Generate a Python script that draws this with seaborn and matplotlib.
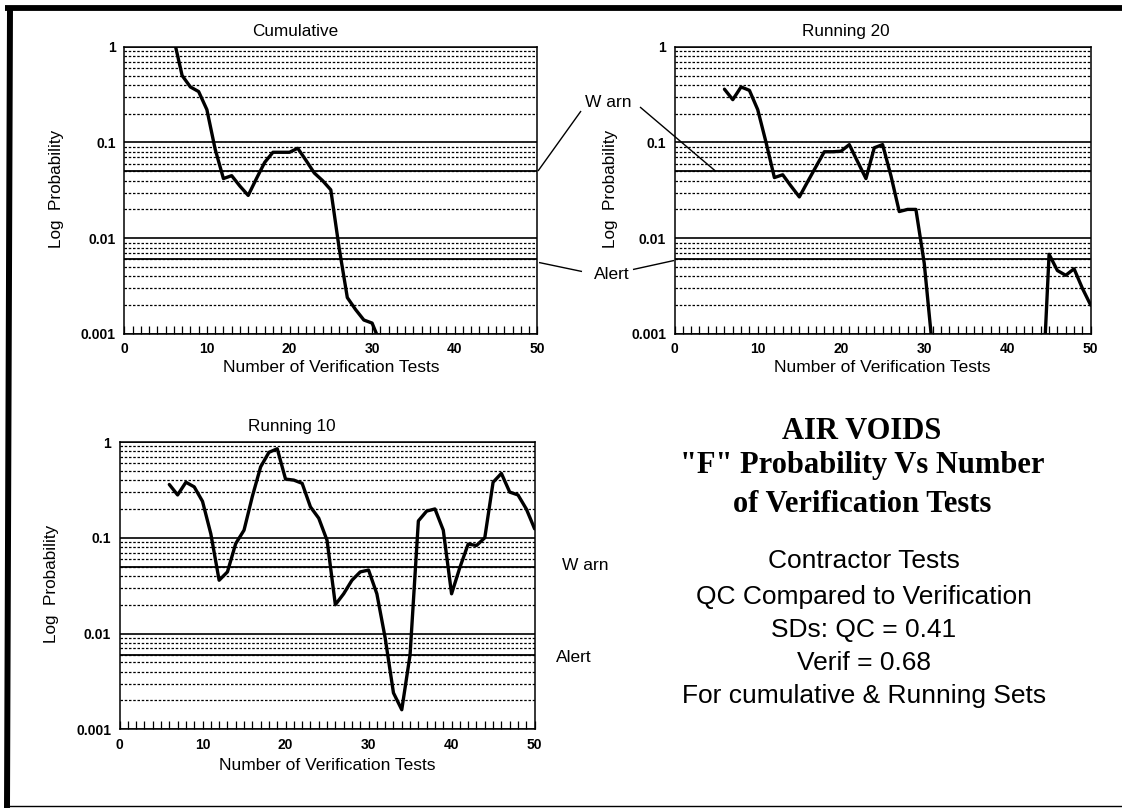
import numpy as np
import pandas as pd
import matplotlib
matplotlib.use("Agg")
import matplotlib.pyplot as plt
from matplotlib.lines import Line2D
from matplotlib.ticker import FixedLocator, MultipleLocator, NullFormatter, LogLocator
import seaborn as sns

# ---------------------------------------------------------------- data
cum_tests = list(range(6, 32))
cum_prob = [1.2, 0.50, 0.38, 0.34, 0.22, 0.085, 0.042, 0.045, 0.035, 0.028,
            0.042, 0.062, 0.079, 0.079, 0.079, 0.087, 0.065, 0.048, 0.040, 0.032,
            0.008, 0.0024, 0.0018, 0.0014, 0.0013, 0.0008]

r20_tests = list(range(6, 32)) + list(range(44, 51))
r20_prob = [0.36, 0.28, 0.38, 0.35, 0.22, 0.10, 0.043, 0.046, 0.035, 0.027,
            0.039, 0.056, 0.080, 0.080, 0.081, 0.095, 0.063, 0.042, 0.088, 0.095,
            0.045, 0.019, 0.020, 0.020, 0.0055, 0.0007,
            0.0001, 0.0068, 0.0046, 0.0041, 0.0048, 0.0030, 0.0020]
r20_segment = [1] * 26 + [2] * 7

r10_tests = list(range(6, 51))
r10_prob = [0.36, 0.28, 0.38, 0.34, 0.24, 0.11, 0.036, 0.044, 0.087, 0.12,
            0.27, 0.55, 0.78, 0.85, 0.41, 0.40, 0.37, 0.21, 0.16, 0.094,
            0.020, 0.026, 0.036, 0.044, 0.046, 0.026, 0.009, 0.0024, 0.0016, 0.006,
            0.15, 0.19, 0.20, 0.12, 0.026, 0.049, 0.086, 0.083, 0.10, 0.38,
            0.47, 0.30, 0.28, 0.20, 0.124]

warn_level = 0.05
alert_level = 0.006

y_ticks = [0.001, 0.01, 0.1, 1]
y_tick_labels = ["0.001", "0.01", "0.1", "1"]
x_ticks = [0, 10, 20, 30, 40, 50]

titles = ["Cumulative", "Running 20", "Running 10"]
x_label = "Number of Verification Tests"
y_label = "Log  Probability"

heading = ["AIR VOIDS", "\"F\" Probability Vs Number", "of Verification Tests"]
notes = ["Contractor Tests", "QC Compared to Verification",
         "SDs: QC = 0.41", "Verif = 0.68", "For cumulative & Running Sets"]

# ---------------------------------------------------------------- style
sns.set_theme(style="white")
plt.rcParams["font.family"] = ["Liberation Sans", "DejaVu Sans"]
plt.rcParams["text.color"] = "black"
plt.rcParams["axes.labelcolor"] = "black"
plt.rcParams["xtick.color"] = "black"
plt.rcParams["ytick.color"] = "black"

W, H = 1122, 808
fig = plt.figure(figsize=(W / 100, H / 100), dpi=100)
fig.patch.set_facecolor("white")


def box(left, top, right, bottom):
    return [left / W, 1 - bottom / H, (right - left) / W, (bottom - top) / H]


def fx(x):
    return x / W


def fy(y):
    return 1 - y / H


def style_axes(ax):
    ax.set_yscale("log")
    ax.set_xlim(0, 50)
    ax.set_ylim(0.001, 1)
    ax.yaxis.set_major_locator(FixedLocator(y_ticks))
    ax.set_yticklabels(y_tick_labels)
    ax.yaxis.set_minor_locator(LogLocator(base=10, subs=range(2, 10)))
    ax.yaxis.set_minor_formatter(NullFormatter())
    ax.xaxis.set_major_locator(FixedLocator(x_ticks))
    ax.xaxis.set_minor_locator(MultipleLocator(1))
    ax.grid(False)
    ax.grid(which="major", axis="y", color="black", lw=1.2, ls="-")
    ax.grid(which="minor", axis="y", color="black", lw=0.9, ls=(0, (2.0, 1.4)))
    ax.axhline(warn_level, color="black", lw=1.3, zorder=2)
    ax.axhline(alert_level, color="black", lw=1.3, zorder=2)
    ax.tick_params(axis="x", which="both", direction="in", length=5.5,
                   width=0.9, pad=6, labelsize=10, bottom=True, top=False)
    ax.tick_params(axis="y", which="both", length=0, pad=6, labelsize=10)
    for lbl in ax.get_xticklabels() + ax.get_yticklabels():
        lbl.set_fontweight("bold")
    for sp in ax.spines.values():
        sp.set_color("black")
        sp.set_linewidth(1.1)
    ax.set_facecolor("white")


boxes = [(124.3, 46.7, 537.3, 334.0),
         (674.5, 46.7, 1090.7, 334.0),
         (119.5, 442.0, 534.6, 729.3)]
frames = [pd.DataFrame({"tests": cum_tests, "prob": cum_prob, "seg": 1}),
          pd.DataFrame({"tests": r20_tests, "prob": r20_prob, "seg": r20_segment}),
          pd.DataFrame({"tests": r10_tests, "prob": r10_prob, "seg": 1})]
title_pos = [(295.5, 31.7), (846.0, 31.7), (291.6, 426.7)]
xlabel_pos = [(330.8, 368.0), (882.6, 367.0), (327.0, 765.0)]
ylabel_pos = [(57.0, 189.0), (610.0, 189.0), (51.4, 584.0)]

for i in range(3):
    ax = fig.add_axes(box(*boxes[i]))
    style_axes(ax)
    sns.lineplot(data=frames[i], x="tests", y="prob", units="seg",
                 estimator=None, color="black", linewidth=2.4, ax=ax,
                 legend=False, zorder=3, solid_joinstyle="round")
    ax.set_xlabel("")
    ax.set_ylabel("")
    fig.text(fx(title_pos[i][0]), fy(title_pos[i][1]), titles[i],
             ha="center", va="center", fontsize=12.3)
    fig.text(fx(xlabel_pos[i][0]), fy(xlabel_pos[i][1]), x_label,
             ha="center", va="center", fontsize=12.5)
    fig.text(fx(ylabel_pos[i][0]), fy(ylabel_pos[i][1]), y_label,
             ha="center", va="center", rotation=90, fontsize=12.3)

# ---------------------------------------------------------------- leader lines and tags
def leader(x1, y1, x2, y2, lw=1.0):
    fig.add_artist(Line2D([fx(x1), fx(x2)], [fy(y1), fy(y2)],
                          transform=fig.transFigure, color="black", lw=lw,
                          solid_capstyle="butt"))


fig.text(fx(608), fy(107), "W arn", ha="center", va="baseline", fontsize=12.5)
leader(538, 171, 581, 111)
leader(640, 107, 716, 171.5)
fig.text(fx(611.5), fy(279), "Alert", ha="center", va="baseline", fontsize=12.5)
leader(539, 262.5, 582, 271.5)
leader(633, 269.5, 674, 260.5)

fig.text(fx(585), fy(570), "W arn", ha="center", va="baseline", fontsize=12.5)
fig.text(fx(574), fy(661.5), "Alert", ha="center", va="baseline", fontsize=12.5)

# ---------------------------------------------------------------- text block
serif = ["Liberation Serif", "DejaVu Serif"]
for txt, yb in zip(heading, [439, 473, 512]):
    fig.text(fx(862), fy(yb), txt, ha="center", va="baseline",
             fontsize=22, fontweight="bold", family=serif)
for txt, yb in zip(notes, [568, 604, 637, 670, 703]):
    fig.text(fx(864), fy(yb), txt, ha="center", va="baseline", fontsize=19)

# ---------------------------------------------------------------- outer frame
leader(5, 8, W, 8, lw=4.2)
leader(10, 8, 7, H, lw=4.3)
leader(4, 806, W, 806, lw=1.0)

fig.savefig("out.png", dpi=100, facecolor="white")
